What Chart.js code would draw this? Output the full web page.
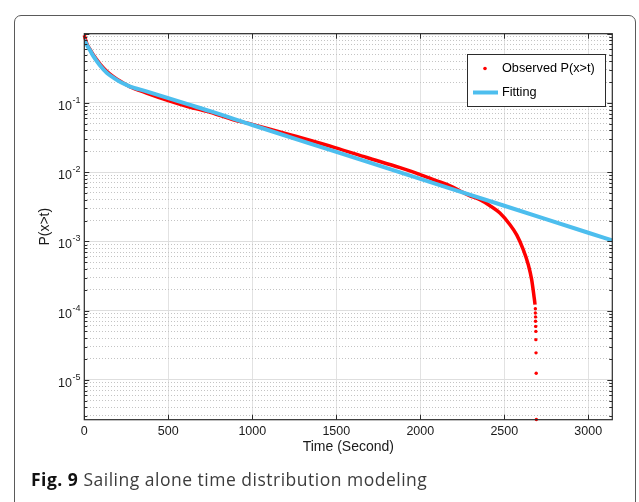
<!DOCTYPE html>
<html>
<head>
<meta charset="utf-8">
<script src="https://cdn.jsdelivr.net/npm/chart.js@4/dist/chart.umd.min.js"></script>
<style>
  body { margin: 0; background: #fff; }
  #wrap { position: relative; width: 639px; height: 502px; overflow: hidden; }
  #frame { position: absolute; left: 14px; top: 15px; width: 622px; height: 540px;
           border: 1px solid #5a5a5a; border-radius: 7px; box-sizing: border-box; }
  #chart { position: absolute; left: 0; top: 0; }
  #caption { position: absolute; left: 31px; top: 467px; font-family: "Open Sans", sans-serif;
             font-size: 17.5px; letter-spacing: 0.5px; color: #3c3c3c; white-space: nowrap; }
  #caption b { color: #111; }
</style>
</head>
<body>
<div id="wrap">
  <div id="frame"></div>
  <canvas id="chart" width="639" height="502"></canvas>
  <div id="caption"><b>Fig. 9</b> Sailing alone time distribution modeling</div>
</div>
<script>
// observed survival function
const obsTime = [0, 15, 35, 55, 75, 95, 135, 175, 215, 270, 370, 500, 620, 750, 887, 1000,
  1284, 1492, 1681, 1879, 1996, 2090, 2177, 2240, 2296, 2355, 2415, 2474, 2534, 2574, 2613, 2643, 2663, 2677, 2683,
  2685, 2685, 2686, 2686, 2687, 2688, 2688, 2689, 2690, 2691];
const obsValue = [0.95, 0.72, 0.59, 0.49, 0.42, 0.36, 0.285, 0.238, 0.205, 0.172, 0.139, 0.108, 0.088, 0.073, 0.057, 0.049,
  0.0316, 0.0226, 0.01625, 0.0116, 0.0093, 0.0076, 0.00634, 0.0053, 0.00455, 0.0040, 0.00327, 0.00256, 0.00174, 0.00124, 0.00076, 0.00046, 0.00028, 0.00016, 0.000122,
  1.06e-4, 9.2e-5, 8.1e-5, 7.0e-5, 5.9e-5, 5.0e-5, 3.8e-5, 2.45e-5, 1.24e-5, 2.67e-6];

// fitted curve
const fitTime = [0, 15, 35, 55, 75, 95, 135, 175, 215, 270, 370, 500, 620, 750, 1000, 1500, 2000, 2500, 3000, 3143];
const fitValue = [0.82, 0.69, 0.57, 0.47, 0.40, 0.345, 0.27, 0.23, 0.20, 0.174, 0.147, 0.117, 0.095, 0.076, 0.048, 0.0196, 0.0080, 0.00327, 0.00133, 0.00103];

const xTicks = [0, 500, 1000, 1500, 2000, 2500, 3000];
const yDecades = [-1, -2, -3, -4, -5];
const seriesLabels = ['Observed P(x>t)', 'Fitting'];

const X_MAX = 3143, Y_MIN = 2.65e-6, Y_MAX = 1;
const RED = '#ff0000', BLUE = '#4dbeee';
const FONT = '"Liberation Sans", Arial, sans-serif';
const DOT_FROM = 2684;

function isDecade(v){
  const l = Math.log10(v);
  return Math.abs(l - Math.round(l)) < 1e-6;
}

// log ticks: every k*10^d inside the range
function logTicks(){
  const out = [];
  for(let d = -6; d <= 0; d++){
    for(let k = 1; k <= 9; k++){
      const v = k * Math.pow(10, d);
      if(v >= Y_MIN && v <= Y_MAX * 1.0000001) out.push({value: v});
    }
  }
  return out;
}

const frame = {
  id: 'frame',
  afterDatasetsDraw(chart){
    const ctx = chart.ctx, a = chart.chartArea;
    const xs = chart.scales.x, ys = chart.scales.y;
    ctx.save();
    ctx.strokeStyle = '#2b2b2b';
    ctx.lineWidth = 1;
    // inward ticks
    ctx.beginPath();
    xTicks.forEach(function(t){
      const px = Math.round(xs.getPixelForValue(t)) + 0.5;
      ctx.moveTo(px, a.bottom); ctx.lineTo(px, a.bottom - 5);
      ctx.moveTo(px, a.top); ctx.lineTo(px, a.top + 5);
    });
    ys.ticks.forEach(function(t){
      const py = Math.round(ys.getPixelForValue(t.value)) + 0.5;
      const len = isDecade(t.value) ? 5 : 3;
      ctx.moveTo(a.left, py); ctx.lineTo(a.left + len, py);
      ctx.moveTo(a.right, py); ctx.lineTo(a.right - len, py);
    });
    ctx.stroke();
    ctx.lineWidth = 1.2;
    ctx.strokeRect(a.left, a.top, a.right - a.left, a.bottom - a.top);

    // y labels 10^-n
    ctx.fillStyle = '#1a1a1a';
    yDecades.forEach(function(d){
      const py = ys.getPixelForValue(Math.pow(10, d));
      ctx.font = '12.5px ' + FONT;
      ctx.textAlign = 'right';
      ctx.textBaseline = 'middle';
      ctx.fillText('10', 72, py + 3.5);
      ctx.font = '9px ' + FONT;
      ctx.textAlign = 'left';
      ctx.fillText('-' + Math.abs(d), 72.5, py - 2.5);
    });

    // legend
    const lx = 467.5, ly = 54.5, lw = 138, lh = 52;
    ctx.fillStyle = '#fff';
    ctx.fillRect(lx, ly, lw, lh);
    ctx.strokeStyle = '#2b2b2b';
    ctx.lineWidth = 1;
    ctx.strokeRect(lx, ly, lw, lh);
    ctx.fillStyle = RED;
    ctx.beginPath();
    ctx.arc(485, 68.5, 1.8, 0, Math.PI * 2);
    ctx.fill();
    ctx.strokeStyle = BLUE;
    ctx.lineWidth = 4;
    ctx.beginPath();
    ctx.moveTo(473, 92.5); ctx.lineTo(498, 92.5);
    ctx.stroke();
    ctx.fillStyle = '#000';
    ctx.font = '12.7px ' + FONT;
    ctx.textAlign = 'left';
    ctx.textBaseline = 'middle';
    ctx.fillText(seriesLabels[0], 502, 68.5);
    ctx.fillText(seriesLabels[1], 502, 92);
    ctx.restore();
  }
};

new Chart(document.getElementById('chart'), {
  type: 'line',
  plugins: [frame],
  data: {
    datasets: [{
      label: seriesLabels[0],
      data: obsTime.map((t, i) => ({x: t, y: obsValue[i]})),
      borderColor: RED,
      backgroundColor: RED,
      borderWidth: 3.5,
      pointRadius: c => (c.raw && c.raw.x >= DOT_FROM) ? 1.7 : 0,
      pointBorderWidth: 0,
      cubicInterpolationMode: 'monotone',
      segment: {
        borderColor: c => c.p1.parsed.x >= DOT_FROM ? 'rgba(0,0,0,0)' : undefined
      },
      clip: false,
      order: 2
    },{
      label: seriesLabels[1],
      data: fitTime.map((t, i) => ({x: t, y: fitValue[i]})),
      borderColor: BLUE,
      backgroundColor: BLUE,
      borderWidth: 4,
      pointRadius: 0,
      cubicInterpolationMode: 'monotone',
      order: 1
    }]
  },
  options: {
    responsive: false,
    animation: false,
    events: [],
    layout: { padding: { left: 32.6, top: 33.7, right: 26.7, bottom: 42.6 } },
    plugins: { legend: { display: false }, tooltip: { enabled: false } },
    scales: {
      x: {
        type: 'linear',
        min: 0,
        max: X_MAX,
        afterBuildTicks: s => { s.ticks = xTicks.map(v => ({value: v})); },
        afterFit: s => { s.height = 39.7; },
        ticks: {
          autoSkip: false,
          maxRotation: 0,
          padding: 4,
          color: '#1a1a1a',
          font: { family: FONT, size: 12.5 },
          callback: v => String(v)
        },
        grid: { color: '#e2e2e2', lineWidth: 1, drawTicks: false },
        border: { display: false },
        title: { display: true, text: 'Time (Second)', color: '#1a1a1a', font: { family: FONT, size: 14 }, padding: 4 }
      },
      y: {
        type: 'logarithmic',
        min: Y_MIN,
        max: Y_MAX,
        afterBuildTicks: s => { s.ticks = logTicks(); },
        afterFit: s => { s.width = 51.7; },
        ticks: { display: false },
        grid: {
          drawTicks: false,
          lineWidth: 1,
          color: c => (c.tick && isDecade(c.tick.value)) ? '#dedede' : '#c4c4c4'
        },
        border: {
          display: false,
          dash: c => (c.tick && !isDecade(c.tick.value)) ? [1, 2] : []
        },
        title: { display: true, text: 'P(x>t)', color: '#1a1a1a', font: { family: FONT, size: 14 }, padding: 4 }
      }
    }
  }
});
</script>
</body>
</html>
